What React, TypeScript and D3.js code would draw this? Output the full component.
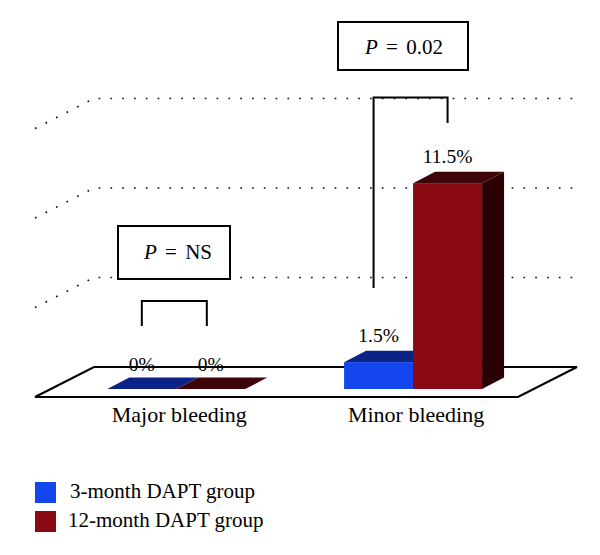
import React from "react";
import * as d3 from "d3";

const categories = ["Major bleeding", "Minor bleeding"];
const seriesNames = ["3-month DAPT group", "12-month DAPT group"];
const threeMonth = [0, 1.5];
const twelveMonth = [0, 11.5];
const valueLabels = [["0%", "0%"], ["1.5%", "11.5%"]];
const gridValues = [5, 10, 15];
const pLabels = ["NS", "0.02"];

const W = 600;
const H = 555;
const FONT = "'Liberation Serif', 'Times New Roman', serif";

const frontColors = ["#1446ee", "#8a0a13"];
const topColors = ["#0b2286", "#3e0509"];
const sideColors = ["#061455", "#2a0204"];

export default function App() {
  const floorFrontY = 397;
  const floorX0 = 35;
  const floorX1 = 518;
  const depthDX = 59;
  const depthDY = -30;
  const floorBackY = floorFrontY + depthDY;

  const barFrac = 8 / 30;
  const barFrontY = floorFrontY + depthDY * barFrac;
  const barShiftX = depthDX * barFrac;
  const barDX = 22;
  const barDY = -11.5;

  const h = d3.scaleLinear().domain([0, 15]).range([0, 268.5]);

  const xGroup = d3
    .scalePoint<string>()
    .domain(categories)
    .range([floorX0, floorX1])
    .padding(0.52)
    .align(0.51);
  const barW = 69;
  const xInner = d3
    .scaleBand<number>()
    .domain([0, 1])
    .range([-barW, barW])
    .padding(0);

  const series = [threeMonth, twelveMonth];

  const gridY = (v: number) => floorBackY - h(v);
  const rightEnd = 577;

  const bars: React.ReactNode[] = [];
  const labels: React.ReactNode[] = [];
  const centers: number[][] = [];

  categories.forEach((cat, ci) => {
    const gc = (xGroup(cat) as number) + barShiftX;
    centers[ci] = [];
    series.forEach((vals, si) => {
      const v = vals[ci];
      const x = gc + (xInner(si) as number);
      const w = xInner.bandwidth();
      const hh = h(v);
      const yTop = barFrontY - hh;
      centers[ci][si] = x + w / 2;
      const topPts = [
        [x, yTop],
        [x + barDX, yTop + barDY],
        [x + w + barDX, yTop + barDY],
        [x + w, yTop],
      ];
      const sidePts = [
        [x + w, yTop],
        [x + w + barDX, yTop + barDY],
        [x + w + barDX, barFrontY + barDY],
        [x + w, barFrontY],
      ];
      const pts = (p: number[][]) => p.map((q) => q.join(",")).join(" ");
      bars.push(
        <g key={`b${ci}-${si}`}>
          {hh > 0 && <polygon points={pts(sidePts)} fill={sideColors[si]} />}
          <polygon points={pts(topPts)} fill={topColors[si]} />
          {hh > 0 && (
            <rect x={x} y={yTop} width={w} height={hh} fill={frontColors[si]} />
          )}
        </g>
      );
      labels.push(
        <text
          key={`l${ci}-${si}`}
          x={x + w / 2}
          y={yTop + barDY - (hh > 0 ? 9 : 7)}
          textAnchor="middle"
          fontSize={19.5}
          fontFamily={FONT}
          fill="#000"
        >
          {valueLabels[ci][si]}
        </text>
      );
    });
  });

  const floorPts = [
    [floorX0, floorFrontY],
    [floorX1, floorFrontY],
    [floorX1 + depthDX, floorBackY],
    [floorX0 + depthDX, floorBackY],
  ]
    .map((q) => q.join(","))
    .join(" ");

  const brackets = [
    { top: 301, left: 326, right: 326, box: { x: 118, y: 226, w: 112, h: 53 }, base: 6.5 },
    { top: gridY(15) - 1, left: 288, right: 123, box: { x: 338, y: 22, w: 130, h: 48 }, base: 8 },
  ];

  return (
    <svg width={W} height={H} style={{ display: "block", position: "absolute", left: 0, top: 0 }}>
      <rect x={0} y={0} width={W} height={H} fill="#fff" />
      {gridValues.map((v) => {
        const y = gridY(v);
        return (
          <path
            key={`g${v}`}
            d={`M${floorX0},${y - depthDY} L${floorX0 + depthDX},${y} L${rightEnd},${y}`}
            fill="none"
            stroke="#111"
            strokeWidth={1.7}
            strokeDasharray="1.7 10.1"
          />
        );
      })}
      <polygon points={floorPts} fill="#fff" stroke="#000" strokeWidth={2} />
      {bars}
      {labels}
      {brackets.map((b, ci) => {
        const xl = centers[ci][0] - (ci === 1 ? 5 : 0);
        const xr = centers[ci][1] - (ci === 0 ? 4 : 0);
        return (
          <g key={`br${ci}`}>
            <path
              d={`M${xl},${b.left} L${xl},${b.top} L${xr},${b.top} L${xr},${b.right}`}
              fill="none"
              stroke="#000"
              strokeWidth={2}
            />
            <rect
              x={b.box.x}
              y={b.box.y}
              width={b.box.w}
              height={b.box.h}
              fill="#fff"
              stroke="#000"
              strokeWidth={2}
            />
            <text
              x={b.box.x + b.box.w / 2 + (ci === 0 ? 4 : 1)}
              y={b.box.y + b.box.h / 2 + b.base}
              textAnchor="middle"
              fontSize={21}
              fontFamily={FONT}
              fill="#000"
            >
              <tspan fontStyle="italic">P</tspan>
              <tspan dx={3}> =</tspan>
              <tspan dx={3}> {pLabels[ci]}</tspan>
            </text>
          </g>
        );
      })}
      {categories.map((cat) => (
        <text
          key={cat}
          x={(xGroup(cat) as number) + barShiftX + 3}
          y={422}
          textAnchor="middle"
          fontSize={22}
          fontFamily={FONT}
          fill="#000"
        >
          {cat}
        </text>
      ))}
      {seriesNames.map((s, i) => (
        <g key={s} transform={`translate(35,${482 + i * 29})`}>
          <rect x={0} y={0} width={21} height={21} fill={frontColors[i]} />
          <text x={i === 0 ? 35 : 33} y={16} fontSize={21} fontFamily={FONT} fill="#000">
            {s}
          </text>
        </g>
      ))}
    </svg>
  );
}
